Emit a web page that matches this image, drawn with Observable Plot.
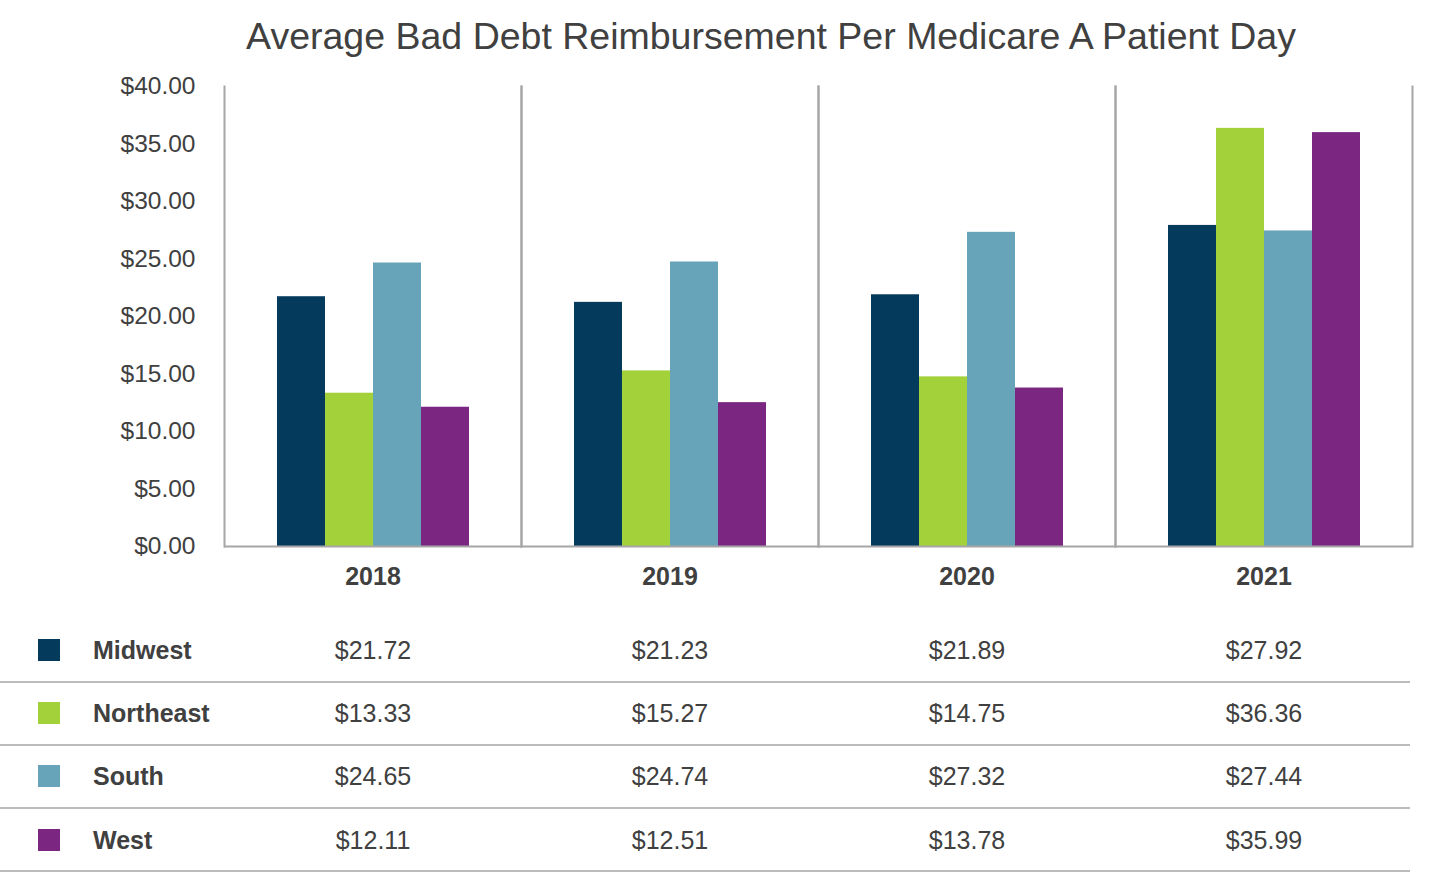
<!DOCTYPE html>
<html>
<head>
<meta charset="utf-8">
<script src="https://cdn.jsdelivr.net/npm/d3@7"></script>
<script src="https://cdn.jsdelivr.net/npm/@observablehq/plot@0.6"></script>
<style>
  html, body { margin: 0; padding: 0; background: #fff; overflow: hidden; }
  body { width: 1435px; height: 872px; position: relative; font-family: "Liberation Sans", Arial, sans-serif; color: #404040; }
  #title { position: absolute; top: 14px; left: 771px; transform: translateX(-50%); white-space: nowrap; font-size: 37.5px; color: #404040; line-height: 44px; }
  #chart { position: absolute; top: 66px; left: 0; }
  .sep { position: absolute; left: 0; width: 1410px; height: 2px; background: #bcbcbc; }
  .sw { position: absolute; left: 38px; width: 22px; height: 22px; }
  .nm { position: absolute; left: 93px; font-size: 25px; font-weight: bold; color: #404040; line-height: 28px; }
</style>
</head>
<body>
<div id="title">Average Bad Debt Reimbursement Per Medicare A Patient Day</div>
<div id="chart"></div>
<div id="legend"></div>
<script>
const years = ["2018", "2019", "2020", "2021"];
const regions = ["Midwest", "Northeast", "South", "West"];
const colors = ["#043a5c", "#a3d13a", "#68a4b9", "#7b2782"];
const midwest = [21.72, 21.23, 21.89, 27.92];
const northeast = [13.33, 15.27, 14.75, 36.36];
const south = [24.65, 24.74, 27.32, 27.44];
const west = [12.11, 12.51, 13.78, 35.99];
const yTicks = [0, 5, 10, 15, 20, 25, 30, 35, 40];

const series = [midwest, northeast, south, west];
const data = [];
regions.forEach((r, i) => years.forEach((y, j) => data.push({region: r, year: y, value: series[i][j]})));

const fmt = v => "$" + v.toFixed(2);
const rowDy = [104, 167, 230, 294];
const rowY = [650, 713, 776, 840];
const sepY = [681, 744, 807, 870];

const marks = [
  Plot.barY(data, {fx: "year", x: "region", y: "value", fill: "region"}),
  Plot.frame({anchor: "left", stroke: "#a6a6a6", strokeWidth: 2}),
  Plot.frame({anchor: "right", stroke: "#a6a6a6", strokeWidth: 2}),
  Plot.ruleY([0], {stroke: "#a6a6a6", strokeWidth: 2}),
  Plot.axisY({ticks: yTicks, tickFormat: fmt, tickSize: 0, tickPadding: 29, fontSize: 24.5, label: null}),
  Plot.text(years, {fx: d => d, text: d => d, frameAnchor: "bottom", lineAnchor: "middle", dy: 30, fontWeight: "bold", fontSize: 25, fill: "#404040"})
];
regions.forEach((r, i) => {
  marks.push(Plot.text(data.filter(d => d.region === r), {
    fx: "year", text: d => fmt(d.value), frameAnchor: "bottom", lineAnchor: "middle", dy: rowDy[i], fontSize: 25, fill: "#404040"
  }));
});

const chart = Plot.plot({
  width: 1435,
  height: 806,
  marginLeft: 224,
  marginRight: 23,
  marginTop: 20,
  marginBottom: 326,
  style: {fontSize: "24px", fontFamily: "'Liberation Sans', Arial, sans-serif", color: "#404040", background: "white", overflow: "visible"},
  fx: {domain: years, padding: 0, axis: null},
  x: {domain: regions, paddingInner: 0, paddingOuter: 1.083, axis: null},
  y: {domain: [0, 40], axis: null},
  color: {domain: regions, range: colors},
  marks
});
document.getElementById("chart").appendChild(chart);

const legend = document.getElementById("legend");
regions.forEach((r, i) => {
  const sw = document.createElement("div");
  sw.className = "sw";
  sw.style.top = (rowY[i] - 11) + "px";
  sw.style.background = colors[i];
  legend.appendChild(sw);
  const nm = document.createElement("div");
  nm.className = "nm";
  nm.style.top = (rowY[i] - 14) + "px";
  nm.textContent = r;
  legend.appendChild(nm);
  const sep = document.createElement("div");
  sep.className = "sep";
  sep.style.top = sepY[i] + "px";
  legend.appendChild(sep);
});
</script>
</body>
</html>
